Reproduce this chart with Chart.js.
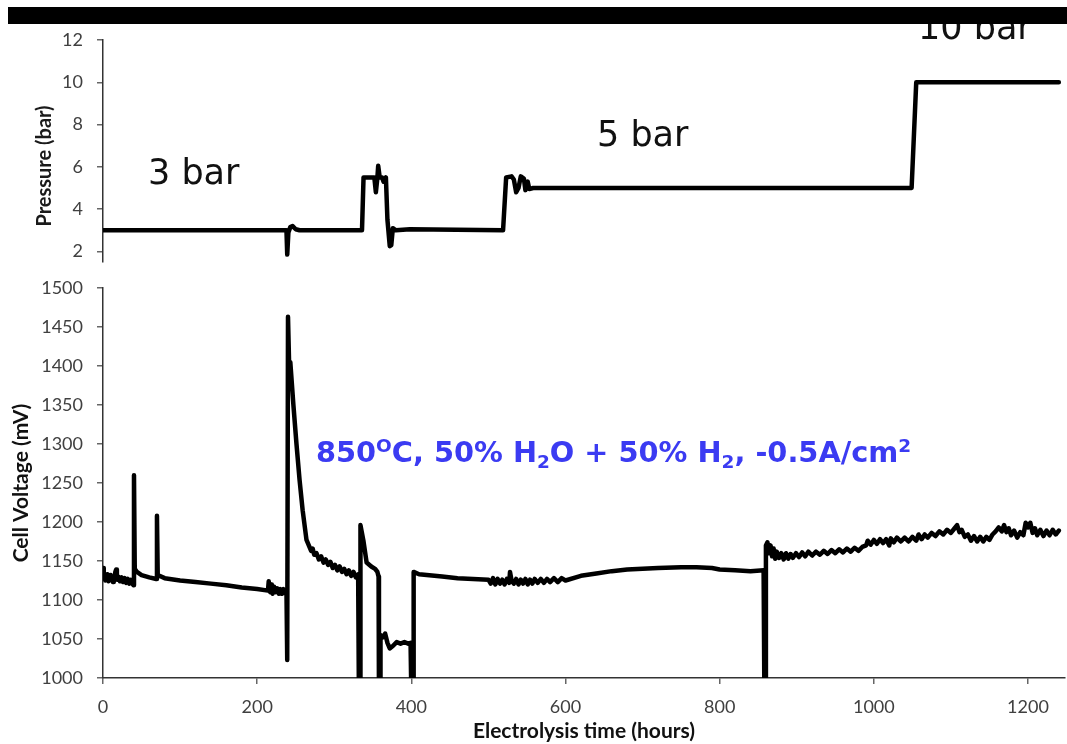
<!DOCTYPE html>
<html><head><meta charset="utf-8">
<script src="https://cdn.jsdelivr.net/npm/chart.js@4.4.1/dist/chart.umd.min.js"></script>
<style>
body{margin:0;background:#fff;overflow:hidden}
#wrap{position:relative;width:1067px;height:744px;background:#fff}
canvas{position:absolute;left:0;top:0}
#bar{position:absolute;left:8px;top:7px;width:1059px;height:17px;background:#000;z-index:5}
</style>
</head><body>
<div id="wrap">
<canvas id="cTop" width="1067" height="744"></canvas>
<canvas id="cBot" width="1067" height="744"></canvas>
<div id="bar"></div>
</div>
<script>
// ---- data ----
const xTickValues = [0, 200, 400, 600, 800, 1000, 1200];
const pressureTickValues = [2, 4, 6, 8, 10, 12];
const voltageTickValues = [1000, 1050, 1100, 1150, 1200, 1250, 1300, 1350, 1400, 1450, 1500];

const pressureHours = [0, 238, 239, 240.5, 243, 246, 250, 255, 336, 338, 352, 354, 356, 357, 359, 362, 364, 367, 369, 372, 374, 376, 380, 398, 519, 523, 530, 533, 536, 539, 542, 546, 548, 551, 553, 558, 600, 1049, 1055, 1240];
const pressureBar = [3.0, 3.0, 1.85, 2.9, 3.15, 3.2, 3.05, 3.0, 3.0, 5.5, 5.5, 4.8, 5.5, 6.05, 5.5, 5.5, 5.3, 5.5, 3.5, 2.25, 2.3, 3.1, 3.0, 3.05, 3.0, 5.5, 5.55, 5.4, 4.8, 5.0, 5.55, 5.45, 4.9, 5.3, 4.95, 5.0, 5.0, 5.0, 10.0, 10.0];

const voltageHours = [
  0, 1, 2, 3, 4, 5, 6, 7, 8, 9, 10, 11, 12, 13, 14, 15, 16, 17, 18, 19, 20, 22, 24, 26, 28, 30, 32, 34, 36, 38, 39.5,
  40.2, 41.2, 44, 50, 60, 69, 70, 71, 80, 100, 120, 140, 160, 180, 200,
  214, 215, 216, 217, 218, 219, 220, 222, 224, 226, 228, 230, 232, 234, 236, 238,
  239, 240, 241.5, 243, 247, 251, 255, 259,
  264, 267, 270, 272, 274, 277, 280, 283, 286, 289, 292, 295, 298, 301, 304, 307, 310, 313, 316, 319, 322, 325, 328, 331,
  332, 333.5, 334, 338, 342, 348, 353, 356, 357.5, 358, 359.5,
  360, 363, 366, 369, 372, 376, 381, 386, 391, 396, 399, 400, 402.5,
  403, 410, 420, 440, 460, 480,
  500, 503, 506, 509, 512, 515, 518, 521, 524, 527, 528, 530, 533, 536, 539, 542, 545, 548, 551, 554, 557, 560, 564, 568, 572, 576, 580, 585, 590, 595, 600,
  620, 640, 660, 680, 700, 720, 750, 770, 790, 800, 820, 840, 857, 858, 859.5,
  860, 862, 864, 866, 868, 870, 872, 874, 877, 880, 883, 886, 889, 892, 895, 899, 903, 907, 911, 915, 920, 925, 930, 935, 940, 945, 950, 955, 960, 965, 970, 975, 980, 985,
  990, 992, 996, 1000, 1004, 1008, 1012, 1016, 1020, 1022, 1026, 1030, 1035, 1040, 1045, 1050, 1055, 1058, 1062, 1066, 1070, 1075, 1080, 1085, 1090, 1095, 1100, 1104,
  1108, 1111, 1114, 1118, 1122, 1126, 1130, 1134, 1138, 1142, 1146, 1150, 1154, 1158, 1162, 1166, 1169, 1172, 1175, 1178, 1182, 1186, 1190, 1194, 1197, 1200, 1203,
  1206, 1209, 1212, 1216, 1220, 1224, 1228, 1232, 1236, 1240
];
const voltageMv = [
  1141, 1130, 1134, 1125, 1131, 1127, 1133, 1124, 1130, 1126, 1132, 1125, 1129, 1123, 1130, 1127, 1136, 1139, 1131, 1126, 1130, 1124, 1129, 1123, 1128, 1122, 1127, 1121, 1126, 1121, 1119,
  1260, 1140, 1136, 1132, 1129, 1127, 1208, 1132, 1128, 1125, 1123, 1121, 1119, 1116, 1114,
  1112, 1124, 1116, 1110, 1120, 1112, 1108, 1117, 1110, 1115, 1108, 1114, 1108, 1114, 1109, 1113,
  1023, 1463, 1400, 1405, 1350, 1300, 1254, 1215,
  1177, 1170, 1163, 1166, 1158, 1160, 1152, 1156, 1148, 1152, 1145, 1149, 1141, 1145, 1138, 1143, 1136, 1140, 1133, 1138, 1131, 1136, 1129, 1133,
  980, 980, 1196, 1175, 1148, 1143, 1140, 1136, 1130, 980, 980,
  1055, 1052, 1057, 1045, 1038, 1041, 1046, 1044, 1046, 1044, 1045, 980, 980,
  1136, 1133, 1132, 1130, 1128, 1127,
  1126, 1121, 1128, 1120, 1127, 1121, 1126, 1120, 1127, 1122, 1136, 1125, 1121, 1127, 1120, 1126, 1121, 1127, 1120, 1126, 1121, 1127, 1122, 1127, 1122, 1127, 1123, 1128, 1123, 1128, 1125,
  1131, 1134, 1137, 1139, 1140, 1141, 1142, 1142, 1141, 1139, 1138, 1137, 1138, 980, 980,
  1170, 1174, 1160, 1170, 1156, 1166, 1153, 1162, 1154, 1160, 1152, 1160, 1153, 1159, 1154, 1160, 1155, 1161, 1156, 1162, 1157, 1162, 1158, 1163, 1159, 1164, 1160, 1165, 1161, 1166, 1162, 1167, 1163, 1168,
  1170, 1176, 1171, 1177, 1172, 1178, 1173, 1178, 1170, 1179, 1174, 1180, 1175, 1180, 1175, 1181, 1176, 1184, 1178, 1184, 1180, 1186, 1182, 1188, 1184, 1190, 1186, 1191,
  1196, 1187, 1190, 1181, 1184, 1176, 1182, 1175, 1181, 1175, 1181, 1177, 1184, 1188, 1193, 1188, 1196, 1187, 1192, 1183, 1189, 1180, 1187, 1183, 1199, 1193, 1199,
  1186, 1192, 1183, 1190, 1182, 1189, 1183, 1190, 1184, 1189
];

const pressureLabels = [
  {text: '3 bar', x: 148, y: 184},
  {text: '5 bar', x: 597, y: 146},
  {text: '10 bar', x: 918, y: 39}
];
</script>
<script>
const X_MIN = 0, X_MAX = 1248;
const AXIS_W = 103;
const tickFont = {family: 'Lato', size: 18};
const titleFont = {family: 'Lato', size: 21, weight: 'bold'};
const tickColor = '#404040';
const plainNum = v => String(v);

function pts(xs, ys){ return xs.map((x,i)=>({x:x, y:ys[i]})); }

const topLabelsPlugin = {
  id: 'topLabels',
  afterDatasetsDraw(chart){
    const ctx = chart.ctx;
    ctx.save();
    ctx.fillStyle = '#111';
    ctx.font = '35px "DejaVu Sans"';
    ctx.textBaseline = 'alphabetic';
    ctx.textAlign = 'left';
    pressureLabels.forEach(l => ctx.fillText(l.text, l.x, l.y));
    // y-axis title of the pressure panel
    ctx.translate(45, 166);
    ctx.rotate(-Math.PI / 2);
    ctx.textAlign = 'center';
    ctx.textBaseline = 'middle';
    ctx.font = 'bold 20px Lato';
    ctx.fillStyle = '#1a1a1a';
    ctx.fillText('Pressure (bar)', 0, 0);
    ctx.restore();
  }
};

const condPlugin = {
  id: 'cond',
  afterDatasetsDraw(chart){
    const ctx = chart.ctx;
    ctx.save();
    ctx.fillStyle = '#3b3bf2';
    ctx.textBaseline = 'alphabetic';
    ctx.textAlign = 'left';
    const big = 'bold 28.8px "DejaVu Sans"';
    const small = 'bold 18.5px "DejaVu Sans"';
    const runs = [
      ['850', big, 0], ['O', small, -10], ['C, 50% H', big, 0], ['2', small, 6],
      ['O + 50% H', big, 0], ['2', small, 6], [', -0.5A/cm', big, 0], ['2', small, -10]
    ];
    let x = 316; const base = 462;
    runs.forEach(r => { ctx.font = r[1]; ctx.fillText(r[0], x, base + r[2]); x += ctx.measureText(r[0]).width; });
    ctx.restore();
  }
};

const commonLine = {borderColor: '#000', borderWidth: 4.5, pointRadius: 0, tension: 0, fill: false, borderJoinStyle: 'round', borderCapStyle: 'round'};

new Chart(document.getElementById('cTop'), {
  type: 'line',
  data: {datasets: [Object.assign({data: pts(pressureHours, pressureBar)}, commonLine)]},
  options: {
    responsive: false, animation: false, parsing: false,
    layout: {padding: {left: 0, right: 2, top: 40, bottom: 744 - 262}},
    plugins: {legend: {display: false}, tooltip: {enabled: false}},
    scales: {
      x: {type: 'linear', min: X_MIN, max: X_MAX, display: false},
      y: {
        type: 'linear', min: 1.5, max: 12,
        afterBuildTicks: s => { s.ticks = pressureTickValues.map(v => ({value: v})); },
        afterFit: s => { s.width = AXIS_W; },
        ticks: {font: tickFont, color: tickColor, padding: 14, callback: plainNum},
        grid: {drawOnChartArea: false, drawTicks: true, tickLength: 6, color: '#666', lineWidth: 1.5},
        border: {display: true, color: '#333', width: 1.5},
        title: {display: false}
      }
    }
  },
  plugins: [topLabelsPlugin]
});

new Chart(document.getElementById('cBot'), {
  type: 'line',
  data: {datasets: [Object.assign({data: pts(voltageHours, voltageMv)}, commonLine)]},
  options: {
    responsive: false, animation: false, parsing: false,
    layout: {padding: {left: 0, right: 2, top: 288, bottom: 0}},
    plugins: {legend: {display: false}, tooltip: {enabled: false}},
    scales: {
      x: {
        type: 'linear', min: X_MIN, max: X_MAX,
        afterBuildTicks: s => { s.ticks = xTickValues.map(v => ({value: v})); },
        afterFit: s => { s.height = 66; },
        ticks: {font: tickFont, color: tickColor, padding: 12, maxRotation: 0, callback: plainNum},
        grid: {drawOnChartArea: false, drawTicks: true, tickLength: 6, color: '#666', lineWidth: 1.5},
        border: {display: true, color: '#333', width: 1.5},
        title: {display: true, text: 'Electrolysis time (hours)', font: titleFont, color: '#111', padding: {top: 0, bottom: 0}}
      },
      y: {
        type: 'linear', min: 1000, max: 1500,
        afterBuildTicks: s => { s.ticks = voltageTickValues.map(v => ({value: v})); },
        afterFit: s => { s.width = AXIS_W; },
        ticks: {font: tickFont, color: tickColor, padding: 14, callback: plainNum},
        grid: {drawOnChartArea: false, drawTicks: true, tickLength: 6, color: '#666', lineWidth: 1.5},
        border: {display: true, color: '#333', width: 1.5},
        title: {display: true, text: 'Cell Voltage (mV)', font: titleFont, color: '#111', padding: {top: 9, bottom: 0}}
      }
    }
  },
  plugins: [condPlugin]
});
</script>
</body></html>
